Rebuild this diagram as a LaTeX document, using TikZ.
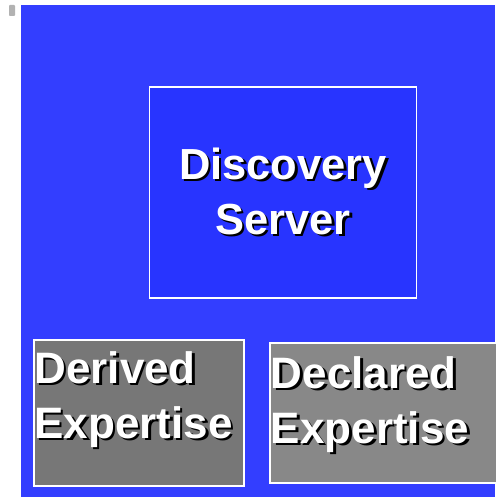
\documentclass[tikz,border=0pt]{standalone}
\usepackage{fontspec}
\setmainfont{Liberation Sans}
\usepackage{xcolor}
\usepackage{tikz}
\usetikzlibrary{positioning}

\definecolor{bgblue}{RGB}{51,62,255}
\definecolor{srvblue}{RGB}{40,52,255}
\definecolor{dergray}{RGB}{119,119,119}
\definecolor{decgray}{RGB}{136,136,136}

% white text with a black drop shadow
\newcommand{\shadowed}[1]{\makebox[0pt][l]{\hspace{2.5pt}\raisebox{-2.5pt}{\color{black}#1}}{\color{white}#1}}

\tikzset{
    panel/.style={draw=white, line width=1.5pt, inner sep=0pt},
    lbl/.style={inner sep=0pt, align=left, font={\bfseries\fontsize{44}{55}\selectfont}}
}

\begin{document}
\begin{tikzpicture}[x=1pt, y=-1pt]
        \useasboundingbox (0,0) rectangle (495,497);
        % background
        \fill[bgblue] (20.5,5) rectangle (495,497);
        \fill[black!30, rounded corners=.8pt] (9,5) rectangle (15,16);
        % server
        \node[panel, fill=srvblue, minimum width=267pt, minimum height=211pt,
              align=center, font={\bfseries\fontsize{43.5}{55}\selectfont}] (srv) at (283,192.5)
              {\shadowed{Discovery}\\\shadowed{Server}};
        % expertise boxes
        \node[panel, fill=dergray, minimum width=210pt, minimum height=146pt] (der) at (139,413) {};
        \node[panel, fill=decgray, minimum width=230pt, minimum height=140pt] (dec) at (385,413) {};
        \node[lbl, below right=12pt and 1pt of der.north west] (dertxt)
              {\shadowed{Derived}\\\shadowed{Expertise}};
        \node[lbl, below right=14pt and 1.5pt of dec.north west] (dectxt)
              {\shadowed{Declared}\\\shadowed{Expertise}};
    \end{tikzpicture}
\end{document}
